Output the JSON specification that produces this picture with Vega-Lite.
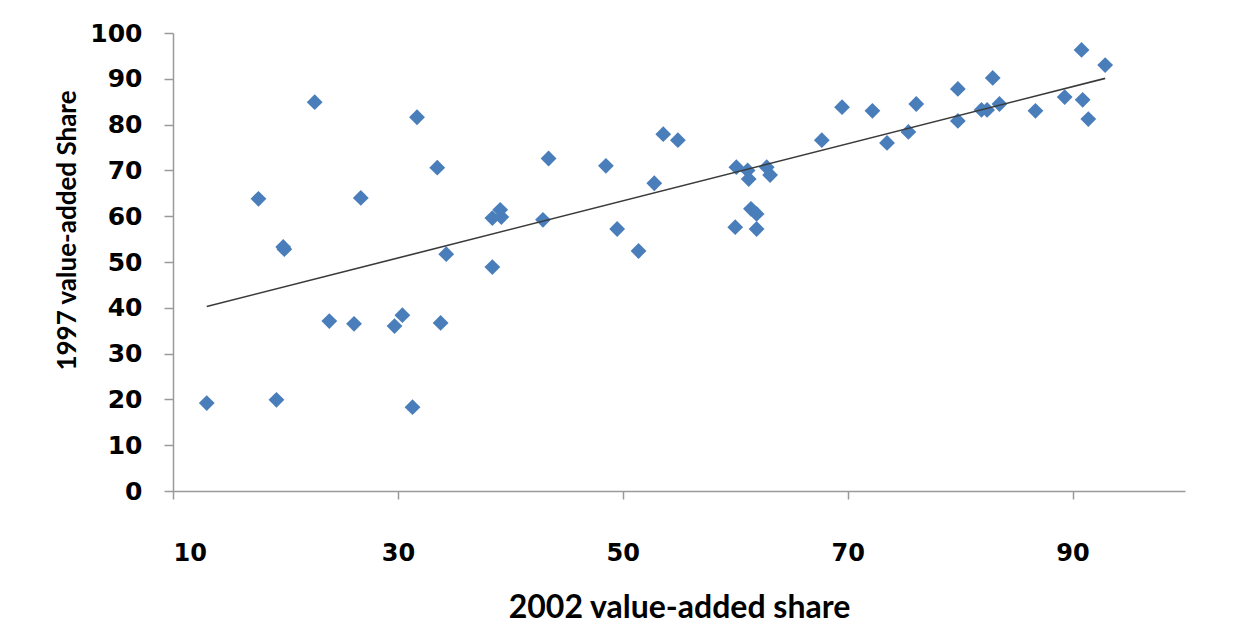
{
  "$schema": "https://vega.github.io/schema/vega-lite/v6.json",
  "width": 1012,
  "height": 458,
  "autosize": "none",
  "padding": {"left": 173, "top": 33, "right": 51, "bottom": 153},
  "background": "white",
  "config": {
    "view": {"stroke": null},
    "axis": {
      "grid": false,
      "domainColor": "#9a9a9a",
      "domainWidth": 1.5,
      "tickColor": "#9a9a9a",
      "tickWidth": 1.5,
      "labelFont": "DejaVu Sans",
      "labelFontWeight": "bold",
      "labelColor": "black",
      "titleFont": "Lato",
      "titleFontWeight": "bold",
      "titleColor": "black"
    }
  },
  "data": {
    "values": [
      {"x": 13.0, "y": 19.2}, {"x": 17.6, "y": 63.8}, {"x": 19.2, "y": 19.9}, {"x": 19.8, "y": 53.3}, {"x": 19.9, "y": 52.8},
      {"x": 22.6, "y": 84.9}, {"x": 23.9, "y": 37.1}, {"x": 26.1, "y": 36.5}, {"x": 26.7, "y": 64.0}, {"x": 29.7, "y": 36.0},
      {"x": 30.4, "y": 38.4}, {"x": 31.3, "y": 18.3}, {"x": 31.7, "y": 81.6}, {"x": 33.5, "y": 70.6}, {"x": 33.8, "y": 36.7},
      {"x": 34.3, "y": 51.7}, {"x": 38.4, "y": 48.9}, {"x": 38.4, "y": 59.6}, {"x": 39.1, "y": 61.4}, {"x": 39.2, "y": 59.8},
      {"x": 42.9, "y": 59.2}, {"x": 43.4, "y": 72.6}, {"x": 48.5, "y": 71.0}, {"x": 49.5, "y": 57.2}, {"x": 51.4, "y": 52.4},
      {"x": 52.8, "y": 67.2}, {"x": 53.6, "y": 77.9}, {"x": 54.9, "y": 76.6}, {"x": 60.0, "y": 57.6}, {"x": 60.1, "y": 70.7},
      {"x": 61.1, "y": 70.0}, {"x": 61.2, "y": 68.1}, {"x": 61.4, "y": 61.6}, {"x": 61.9, "y": 60.5}, {"x": 61.9, "y": 57.2},
      {"x": 62.8, "y": 70.7}, {"x": 63.1, "y": 69.0}, {"x": 67.7, "y": 76.6}, {"x": 69.5, "y": 83.8}, {"x": 72.2, "y": 83.0},
      {"x": 73.5, "y": 76.0}, {"x": 75.4, "y": 78.4}, {"x": 76.1, "y": 84.5}, {"x": 79.8, "y": 87.8}, {"x": 79.8, "y": 80.8},
      {"x": 81.9, "y": 83.2}, {"x": 82.4, "y": 83.2}, {"x": 82.9, "y": 90.2}, {"x": 83.5, "y": 84.5}, {"x": 86.7, "y": 83.0},
      {"x": 89.3, "y": 86.0}, {"x": 90.8, "y": 96.3}, {"x": 90.9, "y": 85.4}, {"x": 91.4, "y": 81.2}, {"x": 92.9, "y": 93.0}
    ]
  },
  "layer": [
    {
      "mark": {"type": "point", "shape": "diamond", "filled": true, "size": 250, "color": "#4a7ebb", "opacity": 1},
      "encoding": {
        "x": {
          "field": "x", "type": "quantitative",
          "scale": {"domain": [10, 100], "nice": false, "zero": false},
          "axis": {
            "values": [10, 30, 50, 70, 90],
            "tickSize": 8,
            "labelPadding": 42,
            "labelFontSize": 24,
            "title": "2002 value-added share",
            "titleFontSize": 32,
            "titleBaseline": "alphabetic",
            "titleY": 126
          }
        },
        "y": {
          "field": "y", "type": "quantitative",
          "scale": {"domain": [0, 100], "nice": false},
          "axis": {
            "values": [0, 10, 20, 30, 40, 50, 60, 70, 80, 90, 100],
            "tickSize": 9,
            "labelPadding": 22,
            "labelFontSize": 25,
            "title": "1997 value-added Share",
            "titleFontSize": 26,
            "titleAngle": -90,
            "titleBaseline": "alphabetic",
            "titleAlign": "center",
            "titleX": -98,
            "titleY": 197
          }
        }
      }
    },
    {
      "transform": [{"regression": "y", "on": "x", "method": "linear"}],
      "mark": {"type": "line", "color": "#3a3a3a", "strokeWidth": 1.6},
      "encoding": {
        "x": {"field": "x", "type": "quantitative"},
        "y": {"field": "y", "type": "quantitative"}
      }
    }
  ]
}
